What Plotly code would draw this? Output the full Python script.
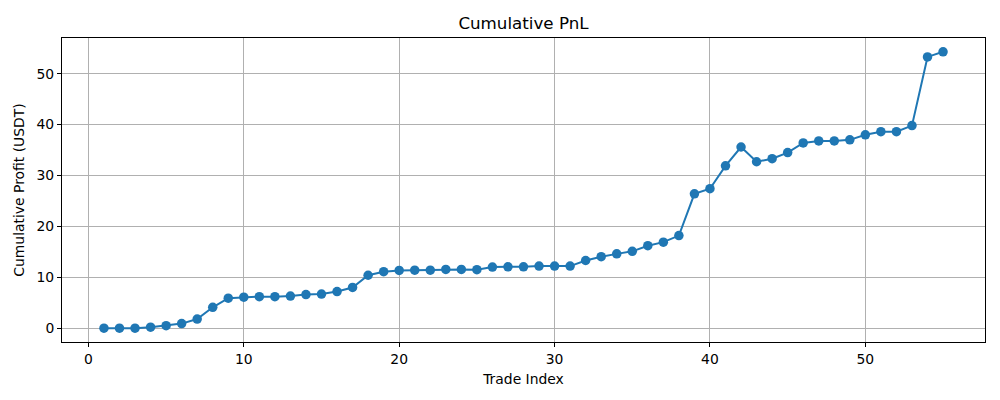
import plotly.graph_objects as go

trade_index = list(range(1, 56))
cumulative_profit = [
    0.0, 0.0, 0.0, 0.2, 0.5, 0.9, 1.8, 4.1, 5.9, 6.1,
    6.2, 6.2, 6.3, 6.6, 6.7, 7.2, 8.0, 10.4, 11.1, 11.35,
    11.4, 11.4, 11.55, 11.55, 11.5, 12.0, 12.05, 12.05, 12.2, 12.2,
    12.2, 13.3, 14.05, 14.6, 15.1, 16.2, 16.9, 18.2, 26.4, 27.4,
    31.9, 35.6, 32.7, 33.3, 34.5, 36.4, 36.8, 36.8, 37.0, 38.0,
    38.6, 38.6, 39.8, 53.3, 54.3,
]
x_ticks = [0, 10, 20, 30, 40, 50]
y_ticks = [0, 10, 20, 30, 40, 50]

color = "#1f77b4"
font = "DejaVu Sans"

fig = go.Figure()
fig.add_trace(go.Scatter(
    x=trade_index, y=cumulative_profit, mode="lines+markers",
    line=dict(color=color, width=2),
    marker=dict(color=color, size=9.5),
    showlegend=False,
))

xmin, xmax = min(trade_index), max(trade_index)
ymin, ymax = min(cumulative_profit), max(cumulative_profit)
xpad = (xmax - xmin) * 0.05
ypad = (ymax - ymin) * 0.05

axis_common = dict(
    showgrid=True, gridcolor="#b0b0b0", gridwidth=0.8,
    showline=True, linecolor="black", linewidth=1, mirror=True,
    ticks="outside", ticklen=4, tickwidth=1, tickcolor="black",
    zeroline=False, automargin=False,
    tickfont=dict(family=font, size=13.9, color="black"),
)

fig.update_layout(
    width=1000, height=400,
    paper_bgcolor="white", plot_bgcolor="white",
    margin=dict(l=54, r=23, t=30, b=66),
    title=dict(text="Cumulative PnL", x=0.5155, xanchor="center", y=0.9625, yanchor="middle",
               font=dict(family=font, size=16.7, color="black")),
    font=dict(family=font, color="black"),
)
fig.update_xaxes(range=[xmin - xpad, xmax + xpad], tickvals=x_ticks,
                 title=dict(text="Trade Index", font=dict(family=font, size=13.9, color="black"), standoff=8),
                 **axis_common)
fig.update_yaxes(range=[ymin - ypad, ymax + ypad], tickvals=y_ticks,
                 title=dict(text="Cumulative Profit (USDT)", font=dict(family=font, size=13.9, color="black"), standoff=8),
                 **axis_common)

fig.write_html("out.html")
